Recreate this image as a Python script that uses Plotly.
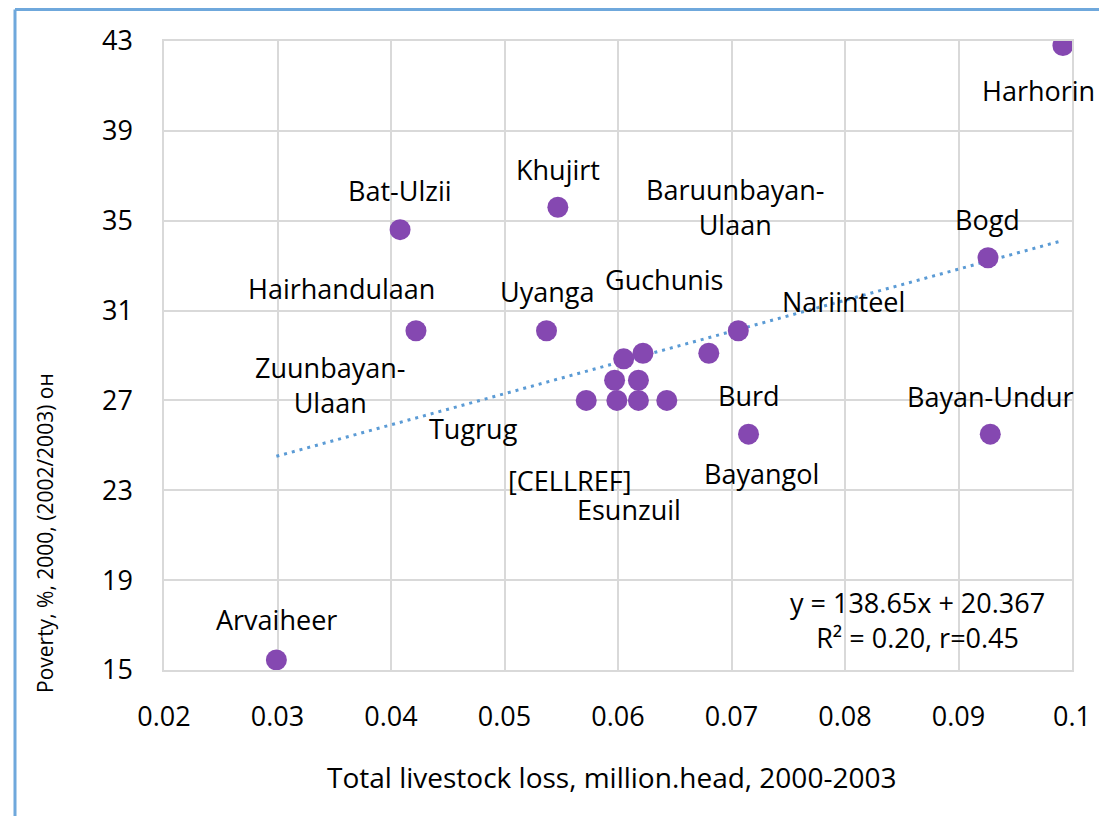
import plotly.graph_objects as go

# ---- data ----
names = ["Harhorin", "Bogd", "Bayan-Undur", "Bat-Ulzii", "Khujirt", "Hairhandulaan",
         "Uyanga", "Arvaiheer", "Nariinteel", "Baruunbayan-<br>Ulaan", "Bayangol",
         "Guchunis", "Zuunbayan-<br>Ulaan", "Tugrug", "", "[CELLREF]", "Esunzuil", "", "Burd"]
livestock_loss = [0.0992, 0.0926, 0.0928, 0.0408, 0.0547, 0.0422,
                  0.0537, 0.0299, 0.0706, 0.0680, 0.0715,
                  0.0622, 0.0605, 0.0597, 0.0618, 0.0572, 0.0599, 0.0618, 0.0643]
poverty = [42.8, 33.35, 25.5, 34.6, 35.6, 30.1,
           30.1, 15.45, 30.1, 29.1, 25.5,
           29.1, 28.85, 27.9, 27.9, 27.0, 27.0, 27.0, 27.0]
# label offsets in pixels (dx, dy; dy positive = up)
label_dx = [-24, -1, 0, 0, 0, -74, 0, 0, 105, 26, 13, 21, -294, -141, 0, -17, 12, 0, 82]
label_dy = [-45, 38, 38, 39, 38, 42, 39, 40, 29, 146, -39, 74, -26, -48, 0, -80, -109, 0, 5]

trend_slope = 138.65
trend_intercept = 20.367
trend_x = [0.0299, 0.0992]

x_ticks = [0.02, 0.03, 0.04, 0.05, 0.06, 0.07, 0.08, 0.09, 0.1]
x_tick_text = ["0.02", "0.03", "0.04", "0.05", "0.06", "0.07", "0.08", "0.09", "0.1"]
y_ticks = [15, 19, 23, 27, 31, 35, 39, 43]

FONT = "Open Sans"
FS = 27

# page offset (browser body margin) compensation
OFF = 8
FIG_W, FIG_H = 1107 - OFF, 816 - OFF
# plot area in page pixels
PX0, PX1, PY0, PY1 = 164, 1072, 41, 670
L, T = PX0 - OFF, PY0 - OFF
R, B = FIG_W + OFF - PX1, FIG_H + OFF - PY1
W, H = PX1 - PX0, PY1 - PY0


def px(xp):
    return (xp - PX0) / W


def py(yp):
    return 1 - (yp - PY0) / H


fig = go.Figure()

fig.add_trace(go.Scatter(
    x=trend_x, y=[trend_slope * v + trend_intercept for v in trend_x],
    mode="lines", line=dict(color="#5B9BD5", width=3, dash="3px,5px"),
    hoverinfo="skip", showlegend=False))

fig.add_trace(go.Scatter(
    x=livestock_loss, y=poverty, mode="markers",
    marker=dict(color="#8548B1", size=21, line=dict(width=0)),
    showlegend=False))

for n, xv, yv, dx, dy in zip(names, livestock_loss, poverty, label_dx, label_dy):
    if not n:
        continue
    fig.add_annotation(x=xv, y=yv, text=n, showarrow=False, xshift=dx, yshift=dy,
                       font=dict(family=FONT, size=FS, color="#000000"),
                       xanchor="center", yanchor="middle")

fig.add_annotation(x=px(917), y=py(620), xref="paper", yref="paper",
                   text="y = 138.65x + 20.367<br>R² = 0.20, r=0.45", showarrow=False,
                   font=dict(family=FONT, size=FS, color="#000000"),
                   xanchor="center", yanchor="middle", align="center")

# axis titles
fig.add_annotation(x=px(611), y=py(777), xref="paper", yref="paper",
                   text="Total livestock loss, million.head, 2000-2003",
                   showarrow=False, xanchor="center", yanchor="middle",
                   font=dict(family=FONT, size=28, color="#000000"))
fig.add_annotation(x=px(45), y=py(533), xref="paper", yref="paper",
                   text="Poverty, %, 2000, (2002/2003) он",
                   showarrow=False, textangle=-90, xanchor="center", yanchor="middle",
                   font=dict(family=FONT, size=21, color="#000000"))

fig.update_layout(
    width=FIG_W, height=FIG_H,
    margin=dict(l=L, r=R, t=T, b=B),
    paper_bgcolor="white", plot_bgcolor="white",
    xaxis=dict(range=[0.02, 0.1], tickvals=x_ticks, ticktext=x_tick_text,
               showgrid=True, gridcolor="#D9D9D9", gridwidth=1.5, zeroline=False,
               showline=True, linecolor="#D9D9D9", linewidth=1.5, mirror=True,
               ticks="", ticklabelstandoff=22,
               tickfont=dict(family=FONT, size=FS, color="#000000")),
    yaxis=dict(range=[15, 43], tickvals=y_ticks,
               showgrid=True, gridcolor="#D9D9D9", gridwidth=1.5, zeroline=False,
               showline=True, linecolor="#D9D9D9", linewidth=1.5, mirror=True,
               ticks="", ticklabelstandoff=24,
               tickfont=dict(family=FONT, size=FS, color="#000000")),
    shapes=[
        dict(type="line", xref="paper", yref="paper", x0=px(15), x1=px(1110),
             y0=py(9.5), y1=py(9.5), line=dict(color="#6FA8DC", width=3)),
        dict(type="line", xref="paper", yref="paper", x0=px(15), x1=px(15),
             y0=py(9.5), y1=py(820), line=dict(color="#6FA8DC", width=3)),
    ],
)

fig.write_html("out.html")
